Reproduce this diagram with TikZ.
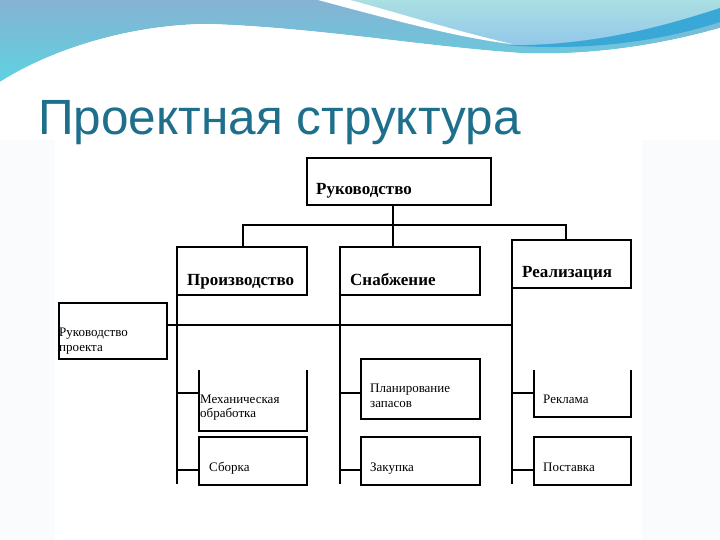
\documentclass[tikz,border=0pt]{standalone}
\usepackage{fontspec}
\setmainfont{Liberation Serif}
\newfontfamily\titlefont{Liberation Sans}
\definecolor{titleteal}{HTML}{1D6F8C}
\definecolor{bandA}{HTML}{86B2D2}
\definecolor{bandB}{HTML}{5ED2E2}
\definecolor{paleA}{HTML}{AADFE3}
\definecolor{paleB}{HTML}{92C7EA}
\definecolor{deepband}{HTML}{3AA8D6}
\definecolor{slidebg}{HTML}{FAFBFC}
\tikzset{
  box/.style={draw=black, line width=1.1pt, inner sep=0pt, outer sep=0pt, anchor=north west, fill=white},
  openbox/.style={inner sep=0pt, outer sep=0pt, anchor=north west},
  conn/.style={draw=black, line width=1.1pt},
  boldlbl/.style={font=\fontsize{17}{19}\selectfont\bfseries, inner sep=0pt, anchor=base west},
  lbl/.style={font=\fontsize{13}{15}\selectfont, inner sep=0pt, anchor=base west},
}
\begin{document}
\begin{tikzpicture}[x=1pt,y=-1pt]
\useasboundingbox (0,0) rectangle (720,540);
% slide background
\fill[slidebg] (0,0) rectangle (720,540);
% top band
\shade[top color=bandA, bottom color=bandB]
  (0,0) -- (720,0) -- (720,28)
  .. controls (660,45) and (590,56) .. (520,53)
  .. controls (420,46) and (320,28) .. (210,24)
  .. controls (130,24) and (50,50) .. (0,82) -- cycle;
\shade[top color=paleA, bottom color=paleB]
  (340,0) -- (720,0) -- (720,10)
  .. controls (650,32) and (570,46) .. (512,45)
  .. controls (450,36) and (400,18) .. (340,0) -- cycle;
\fill[deepband]
  (505,45) .. controls (590,47) and (665,26) .. (720,8) -- (720,22)
  .. controls (665,40) and (590,52) .. (505,45) -- cycle;
\fill[white]
  (318,0) .. controls (400,22) and (460,38) .. (512,44)
  .. controls (452,30) and (395,12) .. (350,0) -- cycle;
% white slide area under band
\fill[white]
  (0,540) -- (0,82)
  .. controls (50,50) and (130,24) .. (210,24)
  .. controls (320,28) and (420,46) .. (520,53)
  .. controls (590,56) and (660,45) .. (720,28) -- (720,140) -- (0,140) -- cycle;
% diagram area
\fill[white] (55,140) rectangle (642,540);
% title
\node[font=\titlefont\fontsize{49.5}{54}\selectfont, text=titleteal, inner sep=0pt, anchor=base west] (title) at (38,135) {Проектная структура};
% boxes
\node[box, minimum width=184pt, minimum height=47pt] (top) at (307,158) {};
\node[box, minimum width=130pt, minimum height=48pt] (prod) at (177,247) {};
\node[box, minimum width=140pt, minimum height=48pt] (snab) at (340,247) {};
\node[box, minimum width=119pt, minimum height=48pt] (real) at (512,240) {};
\node[box, minimum width=108pt, minimum height=56pt] (rp) at (59,303) {};
\node[openbox, minimum width=108pt, minimum height=61pt] (mech) at (199,370) {};
\draw[conn] (mech.north west) -- (mech.south west) -- (mech.south east) -- (mech.north east);
\node[box, minimum width=108pt, minimum height=48pt] (sbor) at (199,437) {};
\node[box, minimum width=119pt, minimum height=60pt] (plan) at (361,359) {};
\node[box, minimum width=119pt, minimum height=48pt] (zak) at (361,437) {};
\node[openbox, minimum width=97pt, minimum height=47pt] (rekl) at (534,370) {};
\draw[conn] (rekl.north west) -- (rekl.south west) -- (rekl.south east) -- (rekl.north east);
\node[box, minimum width=97pt, minimum height=48pt] (post) at (534,437) {};
% labels
\node[boldlbl] (ttop) at (316,195) {Руководство};
\node[boldlbl] (tprod) at (187,285) {Производство};
\node[boldlbl] (tsnab) at (350,285) {Снабжение};
\node[boldlbl] (treal) at (522,277) {Реализация};
\node[lbl] (trp1) at (59,336) {Руководство};
\node[lbl] (trp2) at (59,351) {проекта};
\node[lbl] (tmech1) at (200,403) {Механическая};
\node[lbl] (tmech2) at (200,417) {обработка};
\node[lbl] (tsbor) at (209,471) {Сборка};
\node[lbl] (tplan1) at (370,392) {Планирование};
\node[lbl] (tplan2) at (370,407) {запасов};
\node[lbl] (tzak) at (370,471) {Закупка};
\node[lbl] (trekl) at (543,403) {Реклама};
\node[lbl] (tpost) at (543,471) {Поставка};
% connectors
\coordinate (c1) at (393,225);
\coordinate (bL) at (243,225);
\coordinate (bR) at (566,225);
\draw[conn] (c1 |- top.south) -- (c1 |- snab.north);
\draw[conn] (bL |- prod.north) -- (bL) -- (bR) -- (bR |- real.north);
\coordinate (h) at (512,325);
\draw[conn] (h -| rp.east) -- (h);
\coordinate (v1) at (177,484);
\coordinate (v2) at (340,484);
\coordinate (v3) at (512,484);
\draw[conn] (prod.south west) -- (v1);
\draw[conn] (snab.south west) -- (v2);
\draw[conn] (real.south west) -- (v3);
\coordinate (r1) at (0,393);
\coordinate (r2) at (0,470);
\draw[conn] (v1 |- r1) -- (mech.west |- r1);
\draw[conn] (v1 |- r2) -- (sbor.west |- r2);
\draw[conn] (v2 |- r1) -- (plan.west |- r1);
\draw[conn] (v2 |- r2) -- (zak.west |- r2);
\draw[conn] (v3 |- r1) -- (rekl.west |- r1);
\draw[conn] (v3 |- r2) -- (post.west |- r2);
\end{tikzpicture}
\end{document}
